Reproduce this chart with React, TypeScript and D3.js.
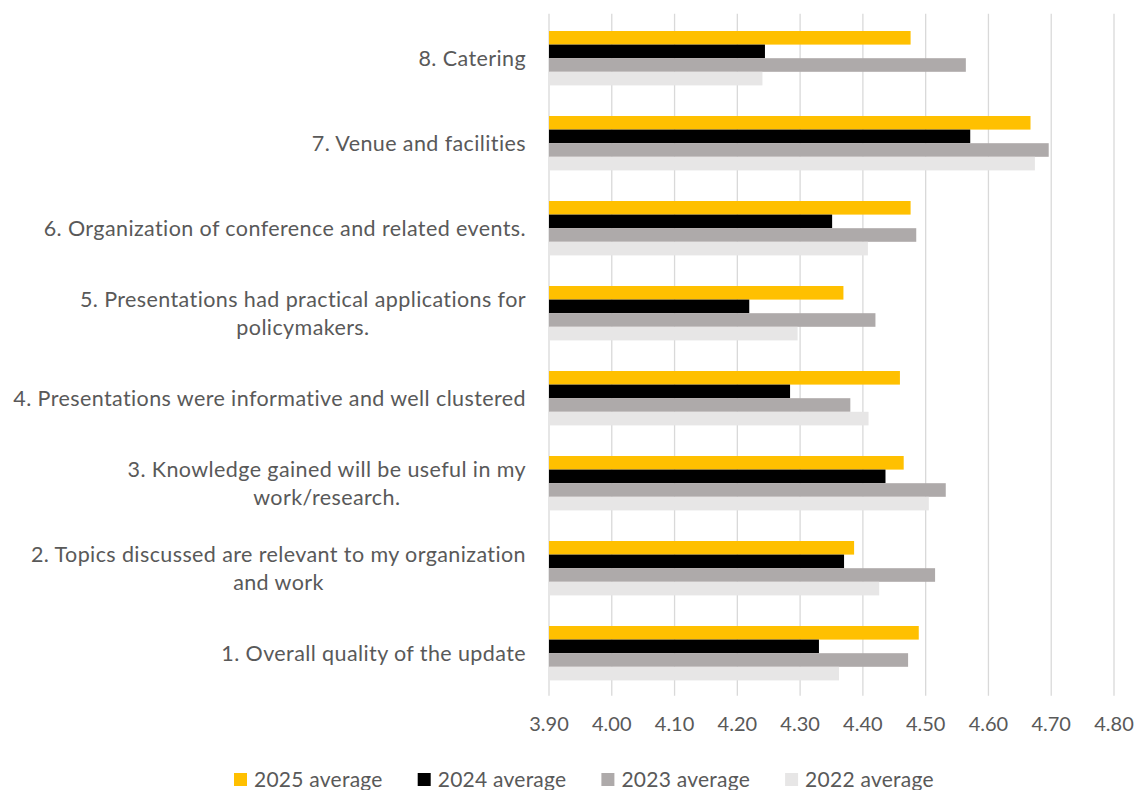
import React, { useEffect, useRef } from 'react';
import * as d3 from 'd3';

// categories from top to bottom, each split into the lines shown on the chart
const categories: string[][] = [
  ['8. Catering'],
  ['7. Venue and facilities'],
  ['6. Organization of conference and related events.'],
  ['5. Presentations had practical applications for', 'policymakers.'],
  ['4. Presentations were informative and well clustered'],
  ['3. Knowledge gained will be useful in my', 'work/research.'],
  ['2. Topics discussed are relevant to my organization', 'and work'],
  ['1. Overall quality of the update'],
];

const seriesNames = ['2025 average', '2024 average', '2023 average', '2022 average'];
const seriesColors = ['#FFC000', '#000000', '#AEAAAA', '#E7E6E6'];

// values per category (same order as categories)
const avg2025 = [4.476, 4.667, 4.476, 4.369, 4.459, 4.465, 4.386, 4.489];
const avg2024 = [4.244, 4.571, 4.351, 4.219, 4.284, 4.436, 4.37, 4.33];
const avg2023 = [4.564, 4.696, 4.485, 4.42, 4.38, 4.532, 4.515, 4.472];
const avg2022 = [4.24, 4.674, 4.408, 4.296, 4.409, 4.505, 4.426, 4.362];

const xTicks = [3.9, 4.0, 4.1, 4.2, 4.3, 4.4, 4.5, 4.6, 4.7, 4.8];

const W = 1140;
const H = 790;
const FONT = 'Lato, "Open Sans", sans-serif';
const TEXT = '#595959';

const App: React.FC = () => {
  const svgRef = useRef<SVGSVGElement>(null);

  useEffect(() => {
    const svg = d3.select(svgRef.current);
    svg.selectAll('*').remove();

    const margin = { top: 15.7, left: 549, right: 26, bottom: 94.3 };
    const series = [avg2025, avg2024, avg2023, avg2022];

    const x = d3
      .scaleLinear()
      .domain([3.9, 4.8])
      .range([margin.left, W - margin.right]);

    const y = d3
      .scaleBand<number>()
      .domain(d3.range(categories.length))
      .range([margin.top, H - margin.bottom])
      .paddingInner(0.36)
      .paddingOuter(0.18);

    const ys = d3
      .scaleBand<number>()
      .domain(d3.range(series.length))
      .range([0, y.bandwidth()]);

    // gridlines
    svg
      .append('g')
      .selectAll('line')
      .data(xTicks)
      .join('line')
      .attr('x1', (d) => x(d))
      .attr('x2', (d) => x(d))
      .attr('y1', margin.top - 2)
      .attr('y2', H - margin.bottom)
      .attr('stroke', '#D9D9D9')
      .attr('stroke-width', 1.3);

    // bars
    const groups = svg
      .append('g')
      .selectAll('g')
      .data(categories.map((_, i) => i))
      .join('g')
      .attr('transform', (i) => `translate(0,${y(i)})`);

    groups
      .selectAll('rect')
      .data((i) => series.map((s, k) => ({ k, v: s[i] })))
      .join('rect')
      .attr('x', x(3.9))
      .attr('y', (d) => ys(d.k) as number)
      .attr('width', (d) => x(d.v) - x(3.9))
      .attr('height', ys.bandwidth())
      .attr('fill', (d) => seriesColors[d.k]);

    // x tick labels
    svg
      .append('g')
      .selectAll('text')
      .data(xTicks)
      .join('text')
      .attr('x', (d) => x(d))
      .attr('y', 731)
      .attr('text-anchor', 'middle')
      .attr('font-family', FONT)
      .attr('font-size', 20)
      .attr('fill', TEXT)
      .text((d) => d3.format('.2f')(d));

    // category labels: block right aligned, lines centred inside it
    const labelRight = 526;
    const lineH = 28;
    categories.forEach((lines, i) => {
      const cy = (y(i) as number) + y.bandwidth() / 2;
      const g = svg.append('g');
      const texts = lines.map((line, j) =>
        g
          .append('text')
          .attr('y', cy + (j - (lines.length - 1) / 2) * lineH)
          .attr('dy', '0.35em')
          .attr('text-anchor', 'middle')
          .attr('font-family', FONT)
          .attr('font-size', 21.5)
          .attr('letter-spacing', 0.4)
          .attr('fill', TEXT)
          .text(line)
      );
      const widths = texts.map((t) => (t.node() as SVGTextElement).getComputedTextLength());
      const maxW = d3.max(widths) ?? 0;
      texts.forEach((t) => t.attr('x', labelRight - maxW / 2));
    });

    // legend
    const legend = svg
      .append('g')
      .selectAll('g')
      .data(seriesNames)
      .join('g')
      .attr('transform', (_, i) => `translate(${234 + i * 183.7},773)`);

    legend
      .append('rect')
      .attr('width', 13)
      .attr('height', 13)
      .attr('fill', (_, i) => seriesColors[i]);

    legend
      .append('text')
      .attr('x', 20)
      .attr('y', 6.5)
      .attr('dy', '0.35em')
      .attr('font-family', FONT)
      .attr('font-size', 21)
      .attr('letter-spacing', 0.25)
      .attr('fill', TEXT)
      .text((d) => d);
  }, []);

  return (
    <svg
      ref={svgRef}
      width={W}
      height={H}
      style={{ position: 'absolute', left: 0, top: 0, background: '#fff' }}
    />
  );
};

export default App;
